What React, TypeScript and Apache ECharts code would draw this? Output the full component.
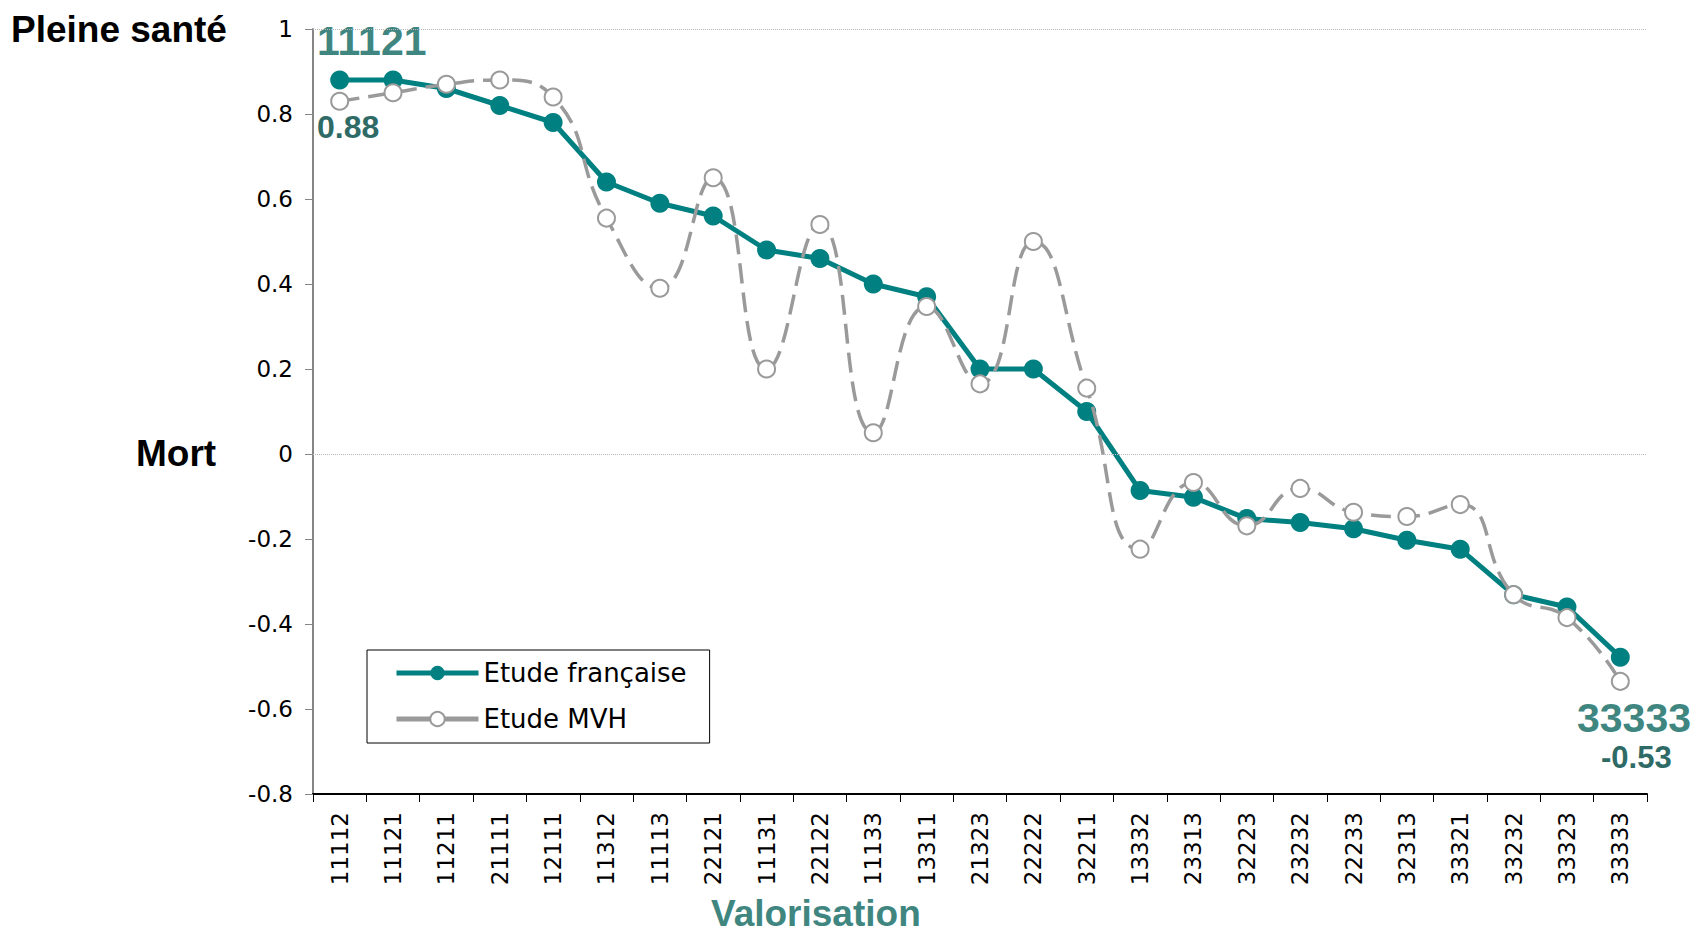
import React, { useEffect, useRef } from "react";
import * as echarts from "echarts";

const categories = [
  "11112", "11121", "11211", "21111", "12111", "11312", "11113", "22121", "11131",
  "22122", "11133", "13311", "21323", "22222", "32211", "13332", "23313", "32223",
  "23232", "22233", "32313", "33321", "33232", "33323", "33333",
];

const etudeFrancaise = [
  0.88, 0.88, 0.86, 0.82, 0.78, 0.64, 0.59, 0.56, 0.48, 0.46, 0.40, 0.37, 0.20,
  0.20, 0.10, -0.086, -0.102, -0.152, -0.161, -0.176, -0.203, -0.224, -0.331,
  -0.36, -0.478,
];

const etudeMVH = [
  0.83, 0.85, 0.87, 0.88, 0.84, 0.555, 0.39, 0.65, 0.20, 0.54, 0.05, 0.347, 0.165,
  0.50, 0.155, -0.224, -0.067, -0.169, -0.081, -0.137, -0.147, -0.119, -0.331,
  -0.385, -0.535,
];

const seriesNames = ["Etude française", "Etude MVH"];
const gridLines = [1, 0];

const TEAL = "#008080";
const GRAY = "#9a9a9a";
const ANNOT = "#408680";
const ANNOT_DARK = "#2f6b66";
const BOLD = "'Liberation Sans', Arial";

export default function App() {
  const ref = useRef<HTMLDivElement>(null);

  useEffect(() => {
    if (!ref.current) return;
    const chart = echarts.init(ref.current, null, { renderer: "svg" });
    const option: any = {
      animation: false,
      backgroundColor: "#ffffff",
      grid: { left: 313, right: 51, top: 29, bottom: 139, containLabel: false },
      legend: {
        orient: "vertical",
        left: 367,
        top: 650,
        data: [
          { name: seriesNames[0], lineStyle: { width: 5, color: TEAL } },
          { name: seriesNames[1], lineStyle: { width: 5, color: GRAY, type: "solid" } },
        ],
        itemWidth: 82,
        itemHeight: 18,
        itemGap: 16,
        padding: [8, 23, 9, 27],
        borderColor: "#000",
        borderWidth: 1,
        backgroundColor: "#fff",
        textStyle: { fontFamily: "DejaVu Sans", fontSize: 26, color: "#000", lineHeight: 30 },
      },
      xAxis: {
        type: "category",
        data: categories,
        boundaryGap: true,
        axisLine: { onZero: false, lineStyle: { color: "#000", width: 2 } },
        axisTick: { show: true, length: 8, alignWithLabel: false, lineStyle: { color: "#000", width: 1 } },
        axisLabel: {
          rotate: 90,
          margin: 18,
          interval: 0,
          fontFamily: "DejaVu Sans",
          fontSize: 23,
          color: "#000",
        },
        splitLine: { show: false },
      },
      yAxis: {
        type: "value",
        min: -0.8,
        max: 1,
        interval: 0.2,
        axisLine: { show: true, lineStyle: { color: "#868686", width: 2 } },
        axisTick: { show: true, length: 8, lineStyle: { color: "#868686", width: 1 } },
        axisLabel: {
          margin: 20,
          fontFamily: "DejaVu Sans",
          fontSize: 23,
          color: "#000",
          formatter: (v: number) => String(Math.round(v * 10) / 10),
        },
        splitLine: { show: false },
      },
      series: [
        {
          name: seriesNames[0],
          type: "line",
          data: etudeFrancaise,
          z: 2,
          symbol: "circle",
          symbolSize: 19,
          lineStyle: { color: TEAL, width: 5 },
          itemStyle: { color: TEAL },
          markLine: {
            silent: true,
            symbol: ["none", "none"],
            label: { show: false },
            lineStyle: { color: "#b8b8b8", type: "dotted", width: 1 },
            data: gridLines.map((v) => ({ yAxis: v })),
          },
        },
        {
          name: seriesNames[1],
          type: "line",
          data: etudeMVH,
          z: 3,
          smooth: true,
          symbol: "circle",
          symbolSize: 17,
          lineStyle: { color: GRAY, width: 3.5, type: [20, 9] },
          itemStyle: { color: "#ffffff", borderColor: GRAY, borderWidth: 2 },
        },
      ],
      graphic: [
        {
          type: "text",
          left: 11,
          top: 11,
          style: { text: "Pleine santé", font: `bold 37px ${BOLD}`, fill: "#000" },
        },
        {
          type: "text",
          left: 136,
          top: 435,
          style: { text: "Mort", font: `bold 37px ${BOLD}`, fill: "#000" },
        },
        {
          type: "text",
          left: 317,
          top: 20,
          style: { text: "11121", font: `bold 41px ${BOLD}`, fill: ANNOT },
        },
        {
          type: "text",
          left: 317,
          top: 111,
          style: { text: "0.88", font: `bold 32px ${BOLD}`, fill: ANNOT_DARK },
        },
        {
          type: "text",
          left: 1577,
          top: 697,
          style: { text: "33333", font: `bold 41px ${BOLD}`, fill: ANNOT },
        },
        {
          type: "text",
          left: 1601,
          top: 742,
          style: { text: "-0.53", font: `bold 31px ${BOLD}`, fill: ANNOT_DARK },
        },
        {
          type: "text",
          left: 711,
          top: 895,
          style: { text: "Valorisation", font: `bold 37px ${BOLD}`, fill: ANNOT },
        },
      ],
    };
    chart.setOption(option);
    return () => chart.dispose();
  }, []);

  return (
    <div
      ref={ref}
      style={{ position: "fixed", left: 0, top: 0, width: 1698, height: 933, background: "#fff" }}
    />
  );
}
